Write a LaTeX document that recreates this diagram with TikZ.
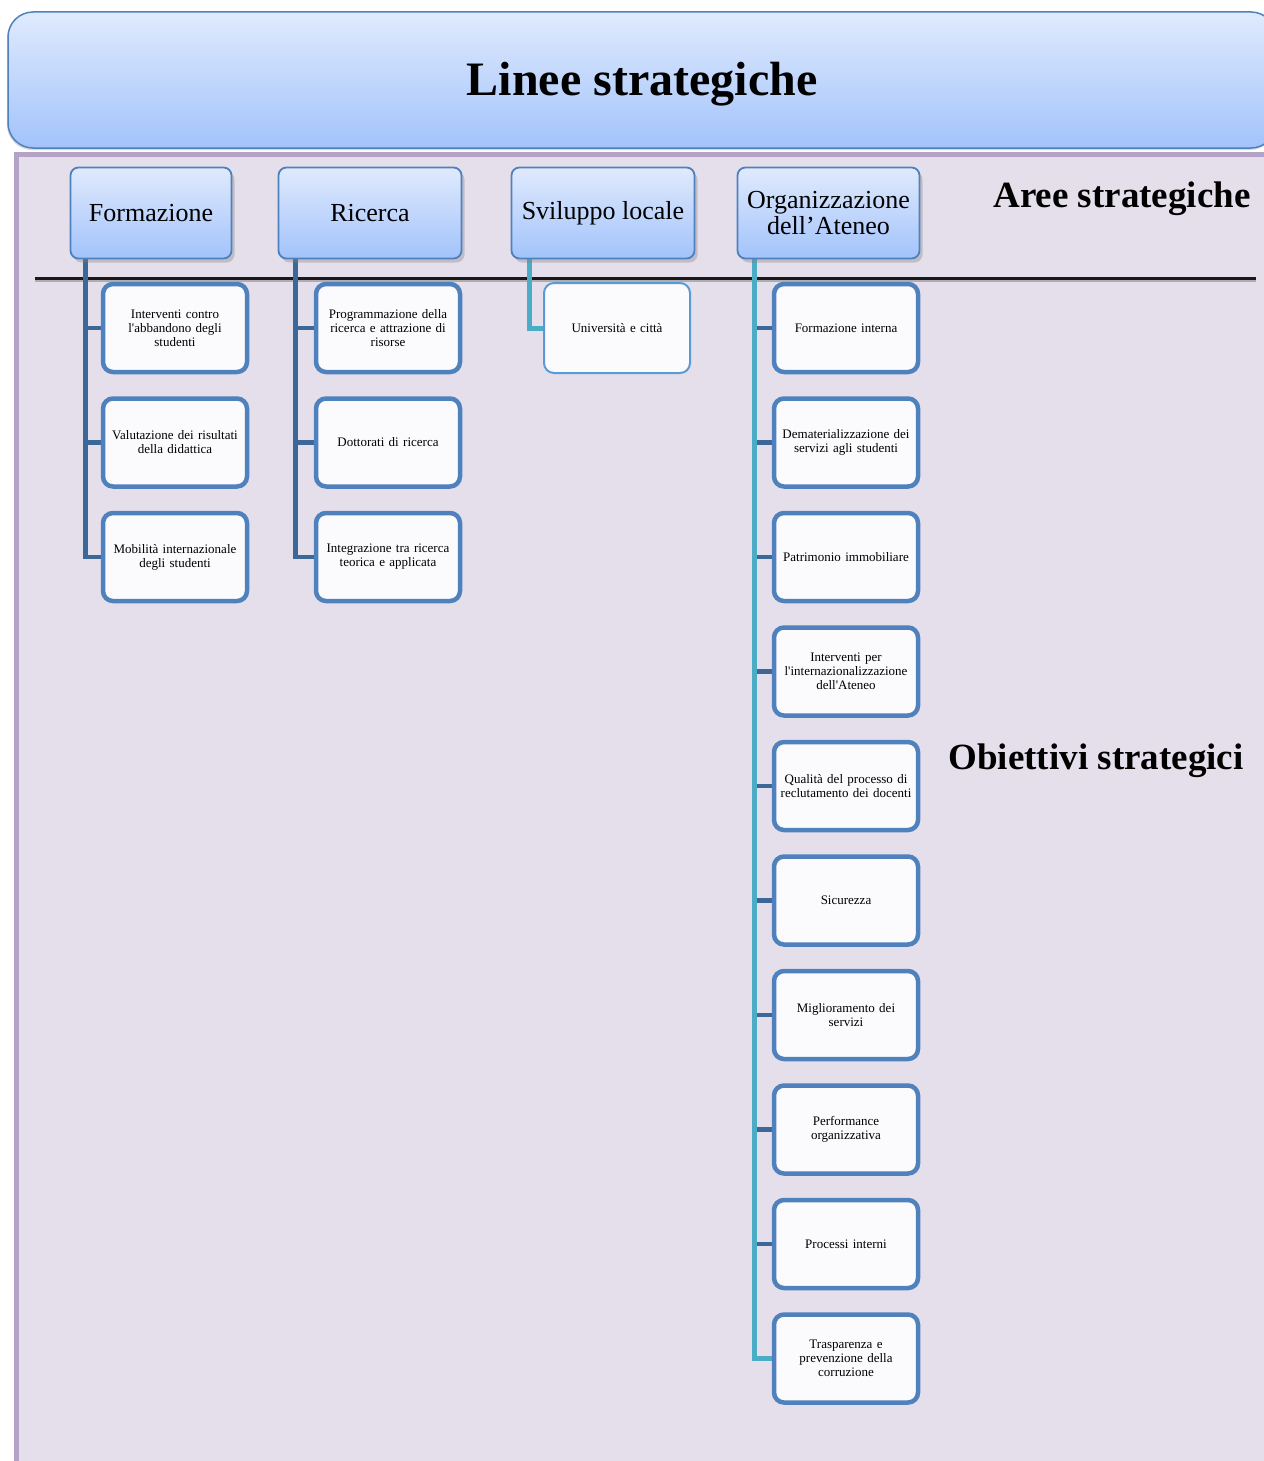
\documentclass[tikz,border=0pt]{standalone}
\usepackage{fontspec}
\setmainfont{Liberation Serif}
\usetikzlibrary{shadows}
\pgfdeclarelayer{back}
\pgfdeclarelayer{conn}
\pgfsetlayers{back,conn,main}
\definecolor{hdrtop}{RGB}{224,234,253}
\definecolor{hdrbot}{RGB}{162,195,251}
\definecolor{bluebord}{RGB}{79,129,189}
\definecolor{bgpurple}{RGB}{229,223,236}
\definecolor{purplebord}{RGB}{180,162,199}
\definecolor{darkconn}{RGB}{60,103,153}
\definecolor{tealconn}{RGB}{75,172,198}
\definecolor{childfill}{RGB}{251,251,254}
\definecolor{lightbord}{RGB}{91,155,213}
\tikzset{
  hdr/.style={rounded corners=25pt, minimum width=1268pt, minimum height=136pt,
    top color=hdrtop, bottom color=hdrbot, draw=bluebord, line width=1.5pt,
    drop shadow={shadow xshift=-1pt, shadow yshift=-2pt, opacity=0.3},
    font=\fontsize{48}{50}\selectfont\bfseries, inner sep=0pt},
  cat/.style={rounded corners=8pt, minimum height=91pt, draw=bluebord, line width=1.8pt,
    top color=hdrtop, bottom color=hdrbot,
    drop shadow={shadow xshift=3pt, shadow yshift=-4pt, opacity=0.35},
    font=\fontsize{26}{26}\selectfont, align=center, inner sep=0pt},
  obj/.style={rounded corners=10pt, draw=bluebord, line width=4.5pt, fill=childfill,
    minimum width=144pt, minimum height=88pt, text width=138pt, align=center,
    font=\fontsize{13}{14}\selectfont, inner sep=0pt},
  objlight/.style={obj, line width=2pt, draw=lightbord, minimum width=146pt, minimum height=90pt},
  dconn/.style={draw=darkconn, line width=4.5pt},
  tconn/.style={draw=tealconn, line width=5pt},
  biglabel/.style={font=\fontsize{37}{37}\selectfont\bfseries, inner sep=0pt}
}
\begin{document}
\begin{tikzpicture}[x=1pt,y=-1pt]
\useasboundingbox (0,0) rectangle (1263,1461);
\clip (0,0) rectangle (1263,1461);
\begin{pgfonlayer}{back}
% background panel
\draw[fill=bgpurple, draw=purplebord, line width=5pt] (16.5,154.5) rectangle (1300,1500);
% header
\node[hdr] (title) at (642,80) {};
% separator line
\coordinate (sepA) at (35,278);
\coordinate (sepB) at (1256,278);
\draw[line width=3pt, black!45, opacity=0.6] ([yshift=-2pt]sepA) -- ([yshift=-2pt]sepB);
\draw[line width=3pt, black!90] (sepA) -- (sepB);
\end{pgfonlayer}
\node[font=\fontsize{48}{50}\selectfont\bfseries, inner sep=0pt] (titletext) at (642,84) {Linee strategiche};
% category boxes
\node[cat, minimum width=161pt] (fz) at (151,213) {Formazione};
\node[cat, minimum width=183pt] (ri) at (370,213) {Ricerca};
\node[cat, minimum width=183pt] (sv) at (603,213) {Sviluppo locale};
\node[cat, minimum width=182pt] (og) at (828.5,213) {Organizzazione\\dell’Ateneo};
% child boxes
\node[obj] (f1) at (175,328) {Interventi contro\\l\textquotesingle abbandono degli\\studenti};
\node[obj] (f2) at (175,442.5) {Valutazione dei risultati\\della didattica};
\node[obj] (f3) at (175,557) {Mobilità internazionale\\degli studenti};
\node[obj] (r1) at (388,328) {Programmazione della\\ricerca e attrazione di\\risorse};
\node[obj] (r2) at (388,442.5) {Dottorati di ricerca};
\node[obj] (r3) at (388,557) {Integrazione tra ricerca\\teorica e applicata};
\node[objlight] (s1) at (617,328) {Università e città};
\node[obj] (o1) at (846,328) {Formazione interna};
\node[obj] (o2) at (846,442.5) {Dematerializzazione dei\\servizi agli studenti};
\node[obj] (o3) at (846,557) {Patrimonio immobiliare};
\node[obj] (o4) at (846,671.5) {Interventi per\\l\textquotesingle internazionalizzazione\\dell\textquotesingle Ateneo};
\node[obj] (o5) at (846,786) {Qualità del processo di\\reclutamento dei docenti};
\node[obj] (o6) at (846,900.5) {Sicurezza};
\node[obj] (o7) at (846,1015) {Miglioramento dei\\servizi};
\node[obj] (o8) at (846,1129.5) {Performance\\organizzativa};
\node[obj] (o9) at (846,1244) {Processi interni};
\node[obj] (o10) at (846,1358.5) {Trasparenza e\\prevenzione della\\corruzione};
% connectors, behind the boxes
\begin{pgfonlayer}{conn}
\coordinate (fzv) at ([xshift=16pt]fz.south west);
\coordinate (riv) at ([xshift=18pt]ri.south west);
\coordinate (svv) at ([xshift=19pt]sv.south west);
\coordinate (ogv) at ([xshift=18pt]og.south west);
\draw[dconn] (fzv) |- (f3.west);
\draw[dconn] (fzv |- f1.west) -- (f1.west);
\draw[dconn] (fzv |- f2.west) -- (f2.west);
\draw[dconn] (riv) |- (r3.west);
\draw[dconn] (riv |- r1.west) -- (r1.west);
\draw[dconn] (riv |- r2.west) -- (r2.west);
\draw[tconn] (svv) |- (s1.west);
\foreach \n in {o1,o2,o3,o4,o5,o6,o7,o8,o9}{
  \draw[dconn] ([xshift=2pt]ogv |- \n.west) -- (\n.west);
}
\draw[tconn] (ogv) |- (o10.west);
\end{pgfonlayer}
% side labels
\node[biglabel] (aree) at (1122,199) {Aree strategiche};
\node[biglabel] (obi) at (1096,761) {Obiettivi strategici};
\end{tikzpicture}
\end{document}
